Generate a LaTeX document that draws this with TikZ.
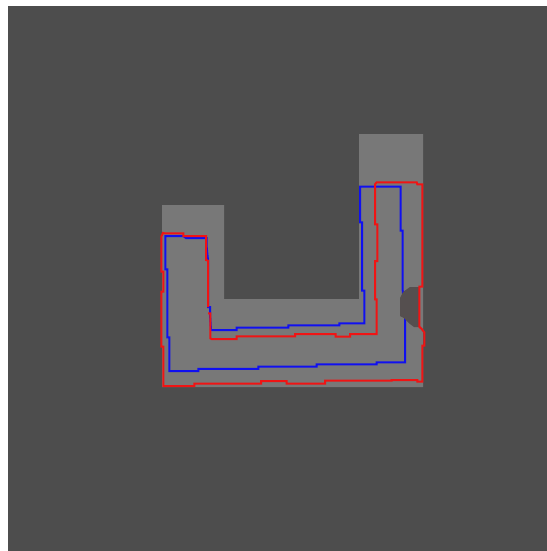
\documentclass[tikz,border=0pt]{standalone}
\usepackage{xcolor}
\definecolor{field}{HTML}{4D4D4D}
\definecolor{channel}{HTML}{787878}
\definecolor{notch}{HTML}{554F4F}
\definecolor{inner}{HTML}{1010F0}
\definecolor{outer}{HTML}{F01414}

\begin{document}
\begin{tikzpicture}[x=0.75pt, y=-0.75pt,
    trace/.style={line width=1.5pt, line join=miter}]
    \useasboundingbox (0,0) rectangle (547,551);
    \fill[white] (0,0) rectangle (547,551);
    \fill[field] (8,6) rectangle (547,551);
    % U-shaped region
    \fill[channel] (162,205) -- (224,205) -- (224,299) -- (359,299) -- (359,134)
      -- (423,134) -- (423,387) -- (162,387) -- cycle;
    % blue contour
    \draw[trace, draw=inner] (165.3,236) -- (183.3,236) -- (186,238) -- (206.7,238) -- (206.7,247.3)
      -- (208,260) -- (208,307) -- (210,307) -- (210,314) -- (211,330) -- (236.7,330) -- (236.7,327.7)
      -- (288.3,327.7) -- (288.3,325.3) -- (339.3,325.3) -- (339.3,323.3) -- (364.3,323.3)
      -- (364.3,290.7) -- (362,290.7) -- (362,222.3) -- (360,222.3) -- (360,186.7) -- (400.7,186.7)
      -- (400.7,230.7) -- (402.7,230.7) -- (402.7,290) -- (405,318) -- (405,362.3) -- (376.5,362.3)
      -- (376.5,364.3) -- (316.7,364.3) -- (316.7,366.5) -- (258.3,366.5) -- (258.3,368.8)
      -- (198.3,368.8) -- (198.3,371) -- (169.3,371) -- (169.3,337.3) -- (167.3,337.3)
      -- (167.3,269.3) -- (165.3,269.3) -- cycle;
    % dark notch on the right arm
    \fill[notch] (419,287) -- (410,287) -- (403,292) -- (400,298) -- (400,316) -- (404,318)
      -- (410,324) -- (414,327) -- (419,327) -- cycle;
    % red contour
    \draw[trace, draw=outer] (163.3,232) -- (163.3,233.3) -- (183.3,233.3) -- (183.3,236) -- (206,236)
      -- (206,260) -- (208,260.7) -- (208,307) (208,313.3) -- (210.3,313.3) -- (210.3,338.3) -- (211.7,339)
      -- (236.7,339) -- (236.7,336.3) -- (295,336.3) -- (295,334) -- (335.7,334) -- (335.7,336.7)
      -- (350,336.7) -- (350,334) -- (376.7,334) -- (376.7,299.3) -- (375,299.3) -- (375,261)
      -- (377.3,261) -- (377.3,224.3) -- (375,224.3) -- (375,184.3) -- (376.7,182.3) -- (416.7,182.3)
      -- (417.3,184.3) -- (422.3,184.3) -- (422.3,286.7) -- (419.3,286.7) -- (419.3,326.7)
      -- (421.7,329) -- (424.3,332.3) -- (424.3,345.7) -- (422.3,345.7) -- (422.3,381.7)
      -- (417.3,381.7) -- (417.3,380) -- (391.7,380) -- (391.7,380.7) -- (325,380.7) -- (325,383.7)
      -- (286.7,383.7) -- (286.7,381) -- (261,381) -- (261,383.7) -- (194.3,383.7) -- (194.3,386)
      -- (163.3,386) -- (163.3,346.7) -- (161.3,346.7) -- (161.3,291.7) -- (163.3,291.7)
      -- (163.3,271.7) -- (161.3,271.7) -- (161.3,236.7) -- (163.3,232);
\end{tikzpicture}
\end{document}
